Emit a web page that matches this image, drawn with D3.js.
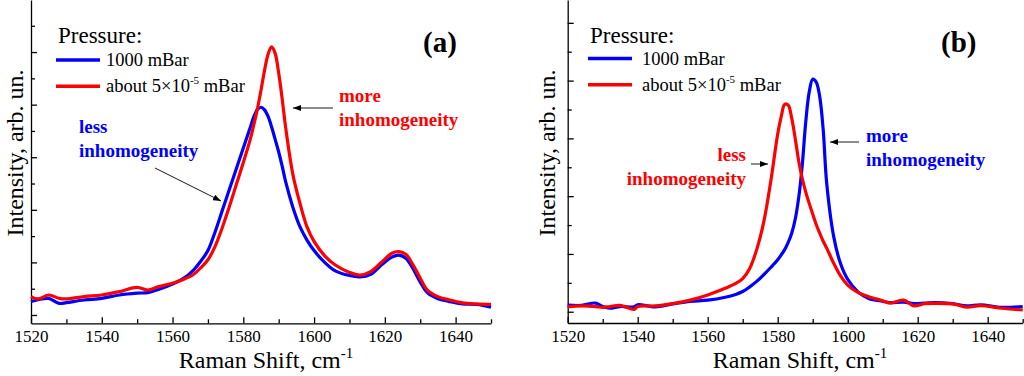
<!doctype html>
<html>
<head>
<meta charset="utf-8">
<script src="https://d3js.org/d3.v7.min.js"></script>
<style>
  body { margin: 0; background: #fff; }
</style>
</head>
<body>
<svg id="chart" width="1024" height="376"></svg>
<script>
// panel (a): Raman shift and intensities (arb. units)
const shiftA = [1520,1522,1525,1528,1530,1535,1540,1545,1550,1553,1556,1560,1563,1566,1568,1570,1572,1574,1576,1578,1580,1582,1583,1584,1585,1586,1587,1588,1589,1590,1591,1592,1594,1596,1598,1600,1603,1606,1610,1613,1616,1619,1622,1624,1626,1628,1630,1632,1635,1638,1642,1646,1650];
const blueA = [0.51,0.58,0.63,0.44,0.47,0.57,0.63,0.76,0.83,0.85,0.97,1.18,1.38,1.72,2.05,2.45,3.15,3.95,4.75,5.55,6.35,7.15,7.55,7.82,7.90,7.80,7.55,7.15,6.68,6.20,5.65,5.05,4.10,3.36,2.85,2.45,2.00,1.68,1.50,1.45,1.55,1.90,2.20,2.28,2.15,1.75,1.25,0.85,0.62,0.52,0.42,0.40,0.30];
const redA = [0.70,0.61,0.76,0.63,0.61,0.70,0.76,0.89,1.05,0.95,1.08,1.21,1.35,1.55,1.80,2.10,2.60,3.30,4.10,4.95,5.80,6.70,7.25,7.85,8.55,9.30,9.92,10.20,9.95,9.20,8.20,7.10,5.35,4.25,3.35,2.80,2.25,1.90,1.62,1.52,1.65,2.00,2.35,2.41,2.30,1.90,1.40,0.95,0.70,0.58,0.46,0.42,0.40];

// panel (b)
const shiftB = [1520,1524,1528,1530,1532,1535,1539,1540,1545,1550,1555,1560,1565,1568,1570,1572,1574,1576,1578,1580,1581,1582,1583,1584,1585,1586,1587,1588,1589,1590,1591,1592,1593,1594,1596,1598,1600,1603,1606,1610,1612,1616,1619,1622,1625,1630,1634,1638,1644,1650];
const blueB = [0.23,0.22,0.30,0.18,0.12,0.18,0.17,0.24,0.17,0.27,0.36,0.40,0.50,0.60,0.70,0.86,1.05,1.28,1.53,1.80,1.97,2.15,2.40,2.72,3.20,3.95,5.05,6.55,7.60,8.05,7.95,7.45,6.30,4.45,2.60,1.65,1.12,0.68,0.46,0.36,0.32,0.33,0.28,0.30,0.32,0.28,0.20,0.24,0.15,0.18];
const redB = [0.17,0.20,0.18,0.15,0.18,0.22,0.08,0.18,0.20,0.28,0.40,0.58,0.81,0.98,1.15,1.50,2.15,3.10,4.50,6.15,6.75,7.18,7.15,6.70,6.00,5.22,4.62,4.15,3.75,3.38,3.02,2.72,2.44,2.20,1.68,1.23,0.92,0.66,0.52,0.38,0.30,0.40,0.20,0.28,0.29,0.27,0.16,0.21,0.12,0.06];

const xTicks = d3.range(1520, 1651, 10);
const xLabels = [1520, 1540, 1560, 1580, 1600, 1620, 1640];
const legendLabels = ["1000 mBar", "about 5\u00d710"];
const colors = { blue: "#0000ff", red: "#ff0000" };
const serif = "Liberation Serif";

const svg = d3.select("#chart");

svg.append("defs").selectAll("marker")
  .data(["arrow"])
  .join("marker")
  .attr("id", d => d)
  .attr("markerUnits", "userSpaceOnUse")
  .attr("viewBox", "0 0 8 6")
  .attr("refX", 8).attr("refY", 3)
  .attr("markerWidth", 8).attr("markerHeight", 6)
  .attr("orient", "auto")
  .append("path").attr("d", "M0,0 L8,3 L0,6 Z").attr("fill", "#000");

function drawPanel(p) {
  const g = svg.append("g");
  const x = d3.scaleLinear().domain([1520, 1650]).range([p.left, p.right]);
  const y = d3.scaleLinear().domain(p.yDomain).range([p.bottom, 0]);

  // x axis: minor then major ticks
  g.append("g").attr("transform", `translate(0,${p.bottom})`)
    .call(d3.axisBottom(x).tickValues(xTicks.filter(d => d % 20 != 0)).tickSize(-4).tickFormat(""))
    .call(a => a.select(".domain").remove());
  const xa = g.append("g").attr("transform", `translate(0,${p.bottom})`)
    .call(d3.axisBottom(x).tickValues(xLabels).tickFormat(d3.format("d"))
      .tickSizeInner(-6).tickSizeOuter(0).tickPadding(7));
  xa.attr("font-size", 17).attr("font-family", serif);
  xa.selectAll("text").attr("dy", "0.71em").attr("font-family", serif).attr("fill", "#000");

  // y axis
  const yMajor = d3.range(0, p.yDomain[1], 2);
  const yMinor = d3.range(1, p.yDomain[1], 2);
  g.append("g").attr("transform", `translate(${p.left},0)`)
    .call(d3.axisLeft(y).tickValues(yMinor).tickSize(-4).tickFormat(""))
    .call(a => a.select(".domain").remove());
  g.append("g").attr("transform", `translate(${p.left},0)`)
    .call(d3.axisLeft(y).tickValues(yMajor).tickSizeInner(-6).tickSizeOuter(0).tickFormat(""));
  g.selectAll(".domain, .tick line").attr("stroke", "#000").attr("stroke-width", 1.3);

  // curves
  const line = d3.line()
    .x(d => x(d[0])).y(d => y(d[1]))
    .curve(d3.curveCatmullRom.alpha(0.5));
  [["blue", p.blue], ["red", p.red]].forEach(([c, vals]) => {
    g.append("path")
      .datum(d3.zip(p.shift, vals))
      .attr("d", line)
      .attr("fill", "none")
      .attr("stroke", colors[c])
      .attr("stroke-width", 3.2)
      .attr("stroke-linejoin", "round");
  });

  // axis titles
  const xt = g.append("text")
    .attr("x", p.xTitleX).attr("y", 368)
    .attr("font-family", serif)
    .attr("text-anchor", "middle").attr("font-size", 24);
  xt.append("tspan").text("Raman Shift, cm");
  xt.append("tspan").attr("font-size", 15).attr("dy", -10).text("-1");

  g.append("text")
    .attr("transform", `translate(${p.yTitleX},153) rotate(-90)`)
    .attr("font-family", serif)
    .attr("text-anchor", "middle").attr("font-size", 24)
    .text("Intensity, arb. un.");

  // legend
  const lg = g.append("g").attr("transform", `translate(${p.legX},0)`);
  lg.append("text").attr("x", 2).attr("y", 43).attr("font-size", 23)
    .attr("font-family", serif).text("Pressure:");
  ["blue", "red"].forEach((c, i) => {
    const yy = p.legY0 + i * 26.3;
    lg.append("line").attr("x1", 0).attr("x2", 44).attr("y1", yy).attr("y2", yy)
      .attr("stroke", colors[c]).attr("stroke-width", 3.5);
    const t = lg.append("text").attr("x", p.legTextDx).attr("y", yy + 6)
      .attr("font-family", serif).attr("font-size", 18.5);
    t.append("tspan").text(legendLabels[i]);
    if (i == 1) {
      t.append("tspan").attr("font-size", 11).attr("dy", -8).text("-5");
      t.append("tspan").attr("dy", 8).text(" mBar");
    }
  });

  // panel letter
  g.append("text").attr("x", p.letterX).attr("y", 52)
    .attr("font-family", serif)
    .attr("font-size", 29).attr("font-weight", "bold").text(p.letter);

  // annotations
  p.notes.forEach(n => {
    const t = g.append("text")
      .attr("font-family", serif)
      .attr("font-size", 19).attr("font-weight", "bold")
      .attr("fill", colors[n.color])
      .attr("text-anchor", n.anchor);
    t.append("tspan").attr("x", n.x).attr("y", n.y).text(n.first);
    t.append("tspan").attr("x", n.x).attr("y", n.y + 24).text("inhomogeneity");
    g.append("line")
      .attr("x1", n.arrow[0]).attr("y1", n.arrow[1])
      .attr("x2", n.arrow[2]).attr("y2", n.arrow[3])
      .attr("stroke", "#000").attr("stroke-width", 0.9)
      .attr("marker-end", "url(#arrow)");
  });
}

drawPanel({
  left: 31, right: 491, bottom: 323.3, yDomain: [-0.316, 11.98],
  shift: shiftA, blue: blueA, red: redA,
  xTitleX: 266, yTitleX: 23, legX: 56, legY0: 60, legTextDx: 50,
  letter: "(a)", letterX: 423,
  notes: [
    { color: "blue", anchor: "start", x: 79, y: 133, first: "less", arrow: [155, 168, 221, 201] },
    { color: "red", anchor: "start", x: 339, y: 102, first: "more", arrow: [333, 108, 293, 108] }
  ]
});

drawPanel({
  left: 567.7, right: 1022.7, bottom: 323, yDomain: [-0.39, 10.79],
  shift: shiftB, blue: blueB, red: redB,
  xTitleX: 800, yTitleX: 555, legX: 588, legY0: 58.5, legTextDx: 54,
  letter: "(b)", letterX: 941,
  notes: [
    { color: "red", anchor: "end", x: 746, y: 161, first: "less", arrow: [751, 164, 768, 164] },
    { color: "blue", anchor: "start", x: 866, y: 142, first: "more", arrow: [859, 142, 830, 142] }
  ]
});
</script>
</body>
</html>
